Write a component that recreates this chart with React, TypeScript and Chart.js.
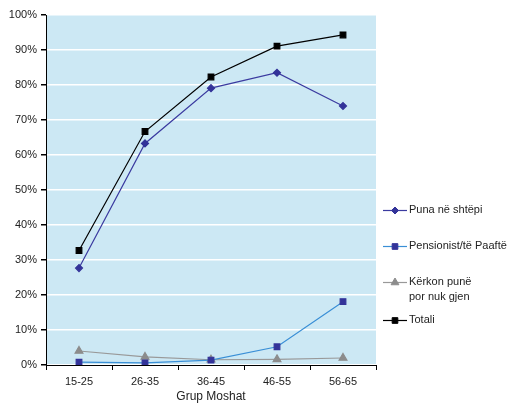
import React, { useEffect, useRef } from "react";
import { Chart, registerables } from "chart.js";
import { drawPoint } from "chart.js/helpers";

Chart.register(...registerables);

const categories = ["15-25", "26-35", "36-45", "46-55", "56-65"];
const punaNeShtepi = [27.7, 63.3, 79.1, 83.5, 74.0];
const pensionist = [0.8, 0.6, 1.4, 5.2, 18.1];
const kerkonPune = [4.0, 2.3, 1.5, 1.6, 2.0];
const totali = [32.7, 66.7, 82.3, 91.1, 94.3];
const legendLabels = [["Puna në shtëpi"], ["Pensionist/të Paaftë"], ["Kërkon punë", "por nuk gjen"], ["Totali"]];
const xTitle = "Grup Moshat";

const FONT = "'Liberation Sans', Arial, sans-serif";

const bgPlugin = {
  id: "bgPlugin",
  beforeDraw(chart: any) {
    const { ctx, chartArea } = chart;
    ctx.save();
    ctx.fillStyle = "#cce8f4";
    ctx.fillRect(chartArea.left, chartArea.top, chartArea.right - chartArea.left, chartArea.bottom - chartArea.top);
    ctx.restore();
  },
};

const legendPlugin = {
  id: "customLegend",
  afterDraw(chart: any) {
    const { ctx } = chart;
    const ys = [210, 246, 282, 320];
    ctx.save();
    ctx.font = "11px " + FONT;
    ctx.textBaseline = "middle";
    chart.data.datasets.forEach((ds: any, i: number) => {
      const y = ys[i];
      ctx.strokeStyle = ds.borderColor;
      ctx.lineWidth = 1.2;
      ctx.beginPath();
      ctx.moveTo(383, y + 0.5);
      ctx.lineTo(407, y + 0.5);
      ctx.stroke();
      ctx.fillStyle = ds.pointBackgroundColor;
      ctx.strokeStyle = ds.pointBorderColor;
      ctx.lineWidth = 1;
      drawPoint(ctx, {
        pointStyle: ds.pointStyle,
        radius: ds.pointRadius,
        rotation: 0,
        borderWidth: 1,
      } as any, 395, y + 0.5);
      ctx.fillStyle = "#222";
      legendLabels[i].forEach((t, j) => ctx.fillText(t, 409, y + j * 15));
    });
    ctx.restore();
  },
};

export default function App() {
  const ref = useRef<HTMLCanvasElement>(null);
  useEffect(() => {
    if (!ref.current) return;
    const mk = (label: string, data: number[], line: string, pt: string, style: string, r: number) => ({
      label,
      data,
      borderColor: line,
      backgroundColor: pt,
      pointBackgroundColor: pt,
      pointBorderColor: pt,
      pointStyle: style,
      pointRadius: r,
      borderWidth: 1.2,
      tension: 0,
    });
    const chart = new Chart(ref.current, {
      type: "line",
      data: {
        labels: categories,
        datasets: [
          mk(legendLabels[0].join(" "), punaNeShtepi, "#3b3ba0", "#333399", "rectRot", 3.5),
          mk(legendLabels[1].join(" "), pensionist, "#3a8fd6", "#333399", "rect", 4),
          mk(legendLabels[2].join(" "), kerkonPune, "#999999", "#8c8c8c", "triangle", 4.5),
          mk(legendLabels[3].join(" "), totali, "#000000", "#000000", "rect", 4),
        ],
      },
      options: {
        animation: false,
        responsive: false,
        maintainAspectRatio: false,
        layout: { padding: { top: 15, right: 134, left: 0, bottom: 0 } },
        plugins: {
          legend: { display: false },
          tooltip: { enabled: false },
        },
        scales: {
          x: {
            offset: true,
            grid: {
              display: true,
              drawOnChartArea: false,
              offset: true,
              tickLength: 5,
              tickColor: "#000",
            },
            border: { display: true, color: "#000", width: 1 },
            ticks: { color: "#222", font: { family: FONT, size: 11 }, padding: 5 },
            title: { display: true, text: xTitle, color: "#222", font: { family: FONT, size: 12 }, padding: { top: 5, bottom: 0 } },
            afterFit: (s: any) => { s.height = 39; },
          },
          y: {
            min: 0,
            max: 100,
            ticks: {
              stepSize: 10,
              color: "#222",
              font: { family: FONT, size: 11 },
              padding: 4,
              callback: (v: any) => v + "%",
            },
            grid: {
              color: "#ffffff",
              lineWidth: 1.5,
              tickLength: 5,
              tickColor: "#000",
            },
            border: { display: true, color: "#000", width: 1 },
            afterFit: (s: any) => { s.width = 46; },
          },
        },
      },
      plugins: [bgPlugin, legendPlugin],
    });
    return () => chart.destroy();
  }, []);
  return (
    <div style={{ position: "fixed", left: 0, top: 0, width: 510, height: 404, background: "#fff" }}>
      <canvas ref={ref} width={510} height={404} style={{ width: 510, height: 404 }} />
    </div>
  );
}
